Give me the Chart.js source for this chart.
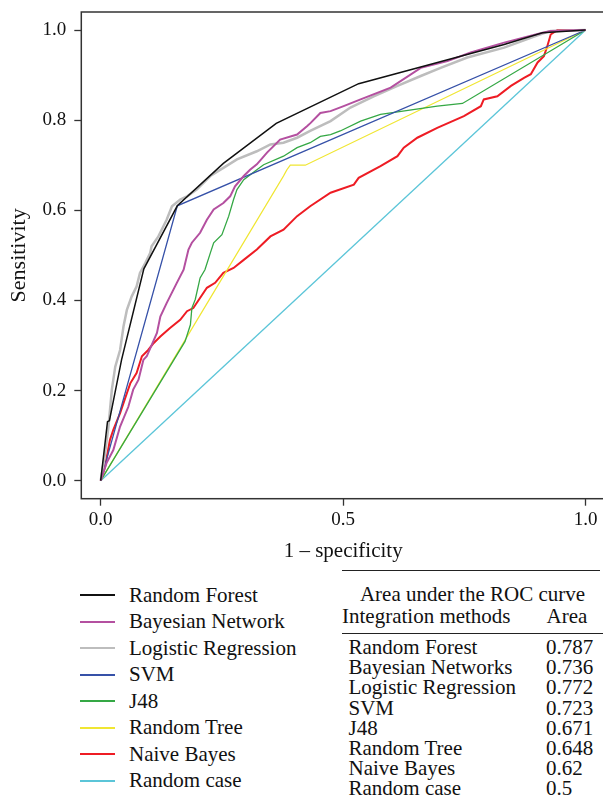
<!DOCTYPE html>
<html>
<head>
<meta charset="utf-8">
<script src="https://cdn.jsdelivr.net/npm/chart.js@4.4.1/dist/chart.umd.min.js"></script>
<style>
    body { margin: 0; background: #fff; width: 603px; height: 799px; overflow: hidden; position: relative;
           font-family: "Liberation Serif", "Times New Roman", serif; color: #111; }
    #chartBox { position: absolute; left: 0; top: 0; width: 605px; height: 570px; }
    #legend { position: absolute; left: 80px; top: 582px; }
    .item { height: 26.5px; display: flex; align-items: center; font-size: 21px; white-space: nowrap; }
    .swatch { width: 35px; height: 0; border-top: 2px solid; margin-right: 14px; }
    .txt { position: absolute; font-size: 21px; white-space: nowrap; }
    .rule { position: absolute; height: 0; border-top: 1.5px solid #222; }
</style>
</head>
<body>
<div id="chartBox"><canvas id="rocChart"></canvas></div>
<div id="legend"></div>
<div id="aucBox"></div>
<script>
// tick positions
const xTicks = [0, 0.5, 1];
const yTicks = [0, 0.2, 0.4, 0.6, 0.8, 1];

// ROC curves, [1 - specificity, sensitivity]
const randomForest = [[0, 0], [0.014, 0.131], [0.018, 0.133], [0.043, 0.268], [0.089, 0.470], [0.158, 0.610],
    [0.253, 0.704], [0.362, 0.793], [0.532, 0.881], [0.832, 0.968], [0.911, 0.994], [1, 1]];

const bayesianNetwork = [[0, 0], [0.005, 0.016], [0.012, 0.039], [0.026, 0.068], [0.040, 0.120], [0.057, 0.164],
    [0.067, 0.202], [0.078, 0.224], [0.088, 0.268], [0.095, 0.276], [0.116, 0.328], [0.123, 0.364], [0.136, 0.394],
    [0.157, 0.439], [0.171, 0.468], [0.181, 0.513], [0.188, 0.528], [0.205, 0.550], [0.219, 0.579], [0.233, 0.602],
    [0.253, 0.616], [0.267, 0.631], [0.277, 0.653], [0.295, 0.676], [0.308, 0.690], [0.322, 0.702], [0.343, 0.728],
    [0.370, 0.757], [0.405, 0.768], [0.426, 0.787], [0.433, 0.794], [0.453, 0.816], [0.474, 0.820], [0.501, 0.831],
    [0.536, 0.846], [0.598, 0.872], [0.660, 0.916], [0.715, 0.931], [0.763, 0.950], [0.832, 0.972], [0.911, 0.994],
    [0.928, 0.998], [1, 1]];

const logisticRegression = [[0, 0], [0.009, 0.061], [0.016, 0.120], [0.023, 0.202], [0.030, 0.253], [0.040, 0.290],
    [0.047, 0.342], [0.054, 0.379], [0.064, 0.409], [0.074, 0.431], [0.081, 0.461], [0.092, 0.483], [0.102, 0.505],
    [0.105, 0.520], [0.119, 0.542], [0.136, 0.579], [0.147, 0.609], [0.164, 0.624], [0.178, 0.631], [0.198, 0.646],
    [0.226, 0.676], [0.253, 0.694], [0.281, 0.713], [0.322, 0.731], [0.350, 0.746], [0.377, 0.750], [0.405, 0.761],
    [0.432, 0.776], [0.474, 0.798], [0.515, 0.828], [0.563, 0.853], [0.612, 0.876], [0.660, 0.898], [0.701, 0.916],
    [0.756, 0.939], [0.832, 0.961], [0.901, 0.988], [0.928, 0.998], [1, 1]];

const svm = [[0, 0], [0.158, 0.610], [1, 1]];

const j48 = [[0, 0], [0.174, 0.309], [0.185, 0.346], [0.188, 0.383], [0.195, 0.402], [0.205, 0.450], [0.215, 0.468],
    [0.226, 0.505], [0.233, 0.528], [0.250, 0.546], [0.264, 0.587], [0.274, 0.624], [0.281, 0.646], [0.295, 0.668],
    [0.322, 0.690], [0.336, 0.701], [0.377, 0.720], [0.405, 0.739], [0.432, 0.750], [0.453, 0.764], [0.474, 0.768],
    [0.494, 0.776], [0.536, 0.798], [0.577, 0.813], [0.694, 0.831], [0.746, 0.837], [1, 1]];

const randomTree = [[0, 0], [0.377, 0.676], [0.384, 0.690], [0.391, 0.700], [0.422, 0.700], [1, 1]];

const naiveBayes = [[0, 0], [0.009, 0.031], [0.019, 0.090], [0.026, 0.113], [0.040, 0.150], [0.054, 0.194],
    [0.061, 0.216], [0.074, 0.239], [0.085, 0.276], [0.098, 0.290], [0.109, 0.305], [0.123, 0.320], [0.143, 0.339],
    [0.164, 0.357], [0.178, 0.376], [0.191, 0.383], [0.219, 0.428], [0.236, 0.439], [0.253, 0.461], [0.274, 0.472],
    [0.295, 0.490], [0.322, 0.513], [0.350, 0.542], [0.377, 0.557], [0.405, 0.587], [0.432, 0.609], [0.474, 0.639],
    [0.522, 0.657], [0.532, 0.672], [0.577, 0.698], [0.612, 0.720], [0.625, 0.739], [0.653, 0.761], [0.694, 0.783],
    [0.749, 0.809], [0.784, 0.831], [0.790, 0.846], [0.818, 0.853], [0.846, 0.876], [0.873, 0.894], [0.887, 0.902],
    [0.901, 0.928], [0.914, 0.942], [0.921, 0.964], [0.928, 0.990], [0.942, 1.0], [1, 1]];

const randomCase = [[0, 0], [1, 1]];

// legend names and the area table
const legendNames = ['Random Forest', 'Bayesian Network', 'Logistic Regression', 'SVM', 'J48', 'Random Tree', 'Naive Bayes', 'Random case'];
const tableNames = ['Random Forest', 'Bayesian Networks', 'Logistic Regression', 'SVM', 'J48', 'Random Tree', 'Naive Bayes', 'Random case'];
const aucValues = [0.787, 0.736, 0.772, 0.723, 0.671, 0.648, 0.62, 0.5];

const curves = [randomForest, bayesianNetwork, logisticRegression, svm, j48, randomTree, naiveBayes, randomCase];
const colors = ['#111111', '#b450a0', '#bdbdbd', '#3651a8', '#35a845', '#f0e632', '#ee1c24', '#5bc5d8'];
const widths = [1.5, 2, 2.5, 1.3, 1.3, 1.3, 2, 1.3];

const datasets = curves.map((c, i) => ({
    label: legendNames[i],
    data: c.map(p => ({ x: p[0], y: p[1] })),
    borderColor: colors[i],
    backgroundColor: colors[i],
    borderWidth: widths[i],
    pointRadius: 0,
    tension: 0,
    fill: false
}));

// box round the plot area
const frame = {
    id: 'frame',
    afterDraw(chart) {
        const { ctx, chartArea: a } = chart;
        ctx.save();
        ctx.strokeStyle = '#333';
        ctx.lineWidth = 1.5;
        ctx.strokeRect(a.left, a.top, a.right - a.left, a.bottom - a.top);
        ctx.restore();
    }
};

const tickFont = { family: 'Liberation Serif', size: 19 };

const chart = new Chart(document.getElementById('rocChart'), {
    type: 'line',
    data: { datasets },
    plugins: [frame],
    options: {
        responsive: true,
        maintainAspectRatio: false,
        animation: false,
        layout: { padding: { left: 6, top: 12, right: 0, bottom: 0 } },
        plugins: { legend: { display: false }, tooltip: { enabled: false } },
        scales: {
            x: {
                type: 'linear', min: -0.04, max: 1.04,
                afterBuildTicks: s => { s.ticks = xTicks.map(v => ({ value: v })); },
                afterFit: s => { s.height = 71.3; s.paddingLeft = 0; s.paddingRight = 0; },
                grid: { drawOnChartArea: false, tickLength: 7, tickColor: '#333', tickWidth: 1.3 },
                border: { display: false },
                ticks: { font: tickFont, color: '#111', padding: 3, maxRotation: 0, callback: v => v.toFixed(1) },
                title: { display: true, text: '1 – specificity', color: '#111',
                         font: { family: 'Liberation Serif', size: 21 }, padding: { top: 0, bottom: 6 } }
            },
            y: {
                type: 'linear', min: -0.04, max: 1.04,
                afterBuildTicks: s => { s.ticks = yTicks.map(v => ({ value: v })); },
                afterFit: s => { s.width = 75.3; s.paddingTop = 0; s.paddingBottom = 0; },
                grid: { drawOnChartArea: false, tickLength: 7, tickColor: '#333', tickWidth: 1.3 },
                border: { display: false },
                ticks: { font: tickFont, color: '#111', padding: 8, callback: v => v.toFixed(1) },
                title: { display: true, text: 'Sensitivity', color: '#111',
                         font: { family: 'Liberation Serif', size: 22 }, padding: { top: 0, bottom: 0 } }
            }
        }
    }
});

// legend under the plot
const legendEl = document.getElementById('legend');
chart.data.datasets.forEach(ds => {
    const row = document.createElement('div');
    row.className = 'item';
    row.innerHTML = `<span class="swatch" style="border-color:${ds.borderColor}"></span><span>${ds.label}</span>`;
    legendEl.appendChild(row);
});

// area table
const box = document.getElementById('aucBox');
function addText(text, left, top, extra) {
    const d = document.createElement('div');
    d.className = 'txt';
    d.textContent = text;
    d.style.left = left + 'px';
    d.style.top = top + 'px';
    d.style.lineHeight = '22px';
    if (extra) Object.assign(d.style, extra);
    box.appendChild(d);
}
function addRule(left, top, width) {
    const d = document.createElement('div');
    d.className = 'rule';
    d.style.left = left + 'px';
    d.style.top = top + 'px';
    d.style.width = width + 'px';
    box.appendChild(d);
}
addRule(342, 570, 258);
addText('Area under the ROC curve', 342, 582.6, { width: '261px', textAlign: 'center' });
addText('Integration methods', 342, 604.7);
addText('Area', 546.5, 604.7);
addRule(342, 632.5, 261);
tableNames.forEach((name, i) => {
    const top = 636 + 20.2 * i;
    addText(name, 348.5, top);
    addText(String(aucValues[i]), 546, top);
});
</script>
</body>
</html>
